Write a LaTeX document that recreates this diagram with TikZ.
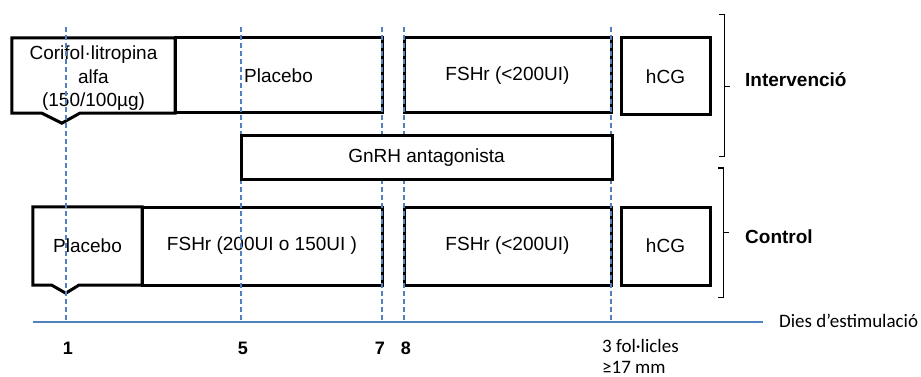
\documentclass[tikz,border=0pt]{standalone}
\usepackage{fontspec}
\setmainfont{Liberation Sans}
\newfontfamily\calibri{Carlito}
\usetikzlibrary{positioning}
\definecolor{guideblue}{RGB}{79,129,189}

\begin{document}
\begin{tikzpicture}[
  x=1pt, y=-1pt,
  box/.style={draw, line width=3pt, align=center, inner sep=0pt, anchor=center, font=\fontsize{19}{23.5}\selectfont},
  lbl/.style={align=center, inner sep=0pt, font=\fontsize{19}{23.5}\selectfont},
  outline/.style={line width=3pt, line join=miter},
  guide/.style={guideblue, line width=1.3pt, dash pattern=on 5pt off 3pt},
  axisline/.style={guideblue, line width=1.3pt},
  brk/.style={line width=1pt},
  grp/.style={anchor=base west, inner sep=0pt, font=\fontsize{19}{23}\selectfont\bfseries},
  day/.style={inner sep=0pt, font=\fontsize{18}{22}\selectfont\bfseries}
]
\useasboundingbox (0,0) rectangle (921,377);

% intervencio
\node[inner sep=0pt, minimum width=163, minimum height=75] (cori) at (93.5,75.5) {};
\draw[outline] (cori.south west) -- ++(30,0) -- ++(20,10) -- ++(18,-10) -- (cori.south east)
  -- (cori.north east) -- (cori.north west) -- cycle;
\node[lbl] (coritxt) at ([yshift=-3pt]cori.center) {Corifol·litropina\\alfa\\(150/100µg)};
\node[box, minimum width=207, minimum height=75] (plai) at (278.5,75.5) {Placebo};
\node[box, minimum width=207, minimum height=75] (fshi) at (507.5,75.5) {FSHr (<200UI)};
\node[box, minimum width=89, minimum height=77] (hcgi) at (665.5,76.5) {hCG};

% control
\node[inner sep=0pt, minimum width=109, minimum height=78] (plac) at (87.5,246) {};
\draw[outline] (plac.south west) -- ++(19,0) -- ++(14,8) -- ++(13,-8) -- (plac.south east)
  -- (plac.north east) -- (plac.north west) -- cycle;
\node[lbl] (plactxt) at (plac.center) {Placebo};
\node[box, minimum width=240, minimum height=78] (fshc) at (262,246) {FSHr (200UI o 150UI )};
\node[box, minimum width=207, minimum height=78] (fsh2) at (507.5,246) {FSHr (<200UI)};
\node[box, minimum width=89, minimum height=78] (hcgc) at (665.5,246) {hCG};

% dies
\foreach \x in {66,241,382,404,611}
  \draw[guide] (\x,27) -- (\x,322);
\node[anchor=west, inner sep=0pt, font=\calibri\fontsize{19}{23}\selectfont] (dies) at (779,321) {Dies d’estimulació};
\draw[axisline] (33,322) -- ([xshift=-16pt]dies.west |- 0,322);

\node[box, fill=white, minimum width=371, minimum height=43] (gnrh) at (426.5,157.5) {GnRH antagonista};

\foreach \x/\d in {68/1,243/5,380/7,406/8}
  \node[day] (d\d) at (\x,348) {\d};
\node[anchor=north west, align=left, inner sep=0pt, font=\calibri\fontsize{19}{21.5}\selectfont] (foll) at (602,339) {3 fol·licles\\≥17 mm};

% grups
\draw[brk] (719,15) -- (724,15) -- (724,157) -- (719,157);
\draw[brk] (724,87) -- (730,87);
\node[grp] (inter) at (745,87) {Intervenció};
\draw[brk] (718,168) -- (723,168) -- (723,297) -- (718,297);
\draw[brk] (723,232) -- (729,232);
\node[grp] (ctrl) at (745,243) {Control};
\end{tikzpicture}
\end{document}
